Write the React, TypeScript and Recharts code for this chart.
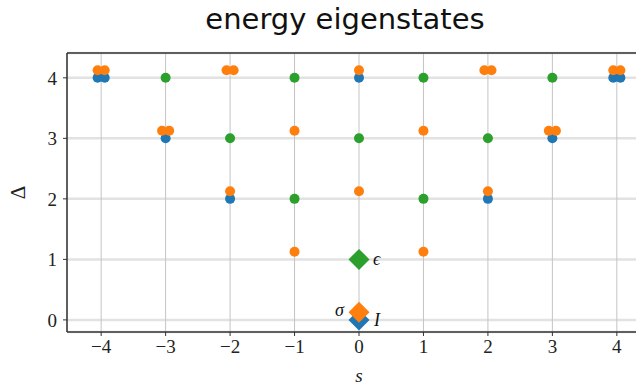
import React from 'react';
import { ScatterChart, Scatter, XAxis, YAxis, CartesianGrid, ReferenceLine } from 'recharts';

// Ising CFT spectrum: spin s vs scaling dimension Δ, m = multiplicity
const identityS = [-4, -3, -2, 0, 2, 3, 4];
const identityDelta = [4, 3, 2, 4, 2, 3, 4];
const identityMult = [2, 1, 1, 1, 1, 1, 2];

const sigmaS = [-4, -3, -2, -2, -1, -1, 0, 0, 1, 1, 2, 2, 3, 4];
const sigmaDelta = [4.125, 3.125, 4.125, 2.125, 3.125, 1.125, 4.125, 2.125, 3.125, 1.125, 4.125, 2.125, 3.125, 4.125];
const sigmaMult = [2, 2, 2, 1, 1, 1, 1, 1, 1, 1, 2, 1, 2, 2];

const epsilonS = [-3, -2, -1, -1, 0, 1, 1, 2, 3];
const epsilonDelta = [4, 3, 4, 2, 3, 4, 2, 3, 4];

const primaryNames = ['I', 'σ', 'ϵ'];
const primaryS = [0, 0, 0];
const primaryDelta = [0, 0.125, 1];

const xTicks = [-4, -3, -2, -1, 0, 1, 2, 3, 4];
const yTicks = [0, 1, 2, 3, 4];
const xDomain: [number, number] = [-4.53, 4.53];
const yDomain: [number, number] = [-0.2, 4.41];

const BLUE = '#1f77b4';
const ORANGE = '#ff7f0e';
const GREEN = '#2ca02c';
const SPREAD = 0.11; // horizontal spread for degenerate states

const expand = (s: number[], d: number[], m?: number[]) =>
  s.flatMap((sv, i) => {
    const n = m ? m[i] : 1;
    return Array.from({ length: n }, (_, k) => ({ s: sv + (k - (n - 1) / 2) * SPREAD, delta: d[i] }));
  });

const identityData = expand(identityS, identityDelta, identityMult);
const sigmaData = expand(sigmaS, sigmaDelta, sigmaMult);
const epsilonData = expand(epsilonS, epsilonDelta);
const primaryData = primaryNames.map((name, i) => ({ name, s: primaryS[i], delta: primaryDelta[i] }));

const primaryColors: Record<string, string> = { I: BLUE, 'σ': ORANGE, 'ϵ': GREEN };
const labelOffset: Record<string, [number, number, string]> = {
  I: [15, 6, 'start'],
  'σ': [-15, 4, 'end'],
  'ϵ': [14, 6, 'start'],
};

const serif = 'Liberation Serif';

const dot = (color: string) => (props: any) => (
  <circle cx={props.cx} cy={props.cy} r={5} fill={color} />
);

const Diamond = (props: any) => {
  const { cx, cy, payload } = props;
  const r = 10.5;
  const color = primaryColors[payload.name];
  const [dx, dy, anchor] = labelOffset[payload.name];
  return (
    <g>
      <polygon points={`${cx},${cy - r} ${cx + r},${cy} ${cx},${cy + r} ${cx - r},${cy}`} fill={color} />
      <text x={cx + dx} y={cy + dy} textAnchor={anchor as any} fontFamily={serif} fontStyle="italic" fontSize={18} fill="#111">
        {payload.name}
      </text>
    </g>
  );
};

const fmt = (v: number) => (v < 0 ? `\u2212${-v}` : `${v}`);

export default function App() {
  const tickStyle = { fontFamily: serif, fontSize: 19, fill: '#222' };
  return (
    <div style={{ position: 'absolute', left: 0, top: 0, width: 636, height: 388, overflow: 'hidden', background: '#fff' }}>
      <div
        style={{
          position: 'absolute',
          left: 345,
          top: 2,
          transform: 'translateX(-50%)',
          fontFamily: 'DejaVu Sans',
          fontSize: 29,
          lineHeight: '34px',
          color: '#111',
          whiteSpace: 'nowrap',
        }}
      >
        energy eigenstates
      </div>
      <ScatterChart width={660} height={388} margin={{ top: 53, right: 9, left: 0, bottom: 0 }}>
        <CartesianGrid vertical={false} stroke="#e2e2e2" strokeWidth={2.5} />
        <CartesianGrid horizontal={false} stroke="#c4c4c4" strokeWidth={1} />
        <XAxis
          type="number"
          dataKey="s"
          domain={xDomain}
          ticks={xTicks}
          tickFormatter={fmt}
          allowDataOverflow
          height={56}
          tick={tickStyle}
          tickSize={4}
          tickMargin={4}
          axisLine={{ stroke: '#333', strokeWidth: 1.5 }}
          tickLine={{ stroke: '#333' }}
          label={{ value: 's', position: 'insideBottom', offset: 6, style: { fontFamily: serif, fontStyle: 'italic', fontSize: 19, fill: '#222' } }}
        />
        <YAxis
          type="number"
          dataKey="delta"
          domain={yDomain}
          ticks={yTicks}
          allowDataOverflow
          width={67}
          tick={tickStyle}
          tickSize={4}
          tickMargin={6}
          axisLine={{ stroke: '#333', strokeWidth: 1.5 }}
          tickLine={{ stroke: '#333' }}
          label={{
            value: 'Δ',
            angle: -90,
            position: 'insideLeft',
            offset: 18,
            style: { fontFamily: serif, fontSize: 21, fill: '#222', textAnchor: 'middle' },
          }}
        />
        <ReferenceLine y={yDomain[1]} stroke="#333" strokeWidth={1.5} />
        <Scatter data={identityData} shape={dot(BLUE)} isAnimationActive={false} />
        <Scatter data={sigmaData} shape={dot(ORANGE)} isAnimationActive={false} />
        <Scatter data={epsilonData} shape={dot(GREEN)} isAnimationActive={false} />
        <Scatter data={primaryData} shape={Diamond} isAnimationActive={false} />
      </ScatterChart>
    </div>
  );
}
